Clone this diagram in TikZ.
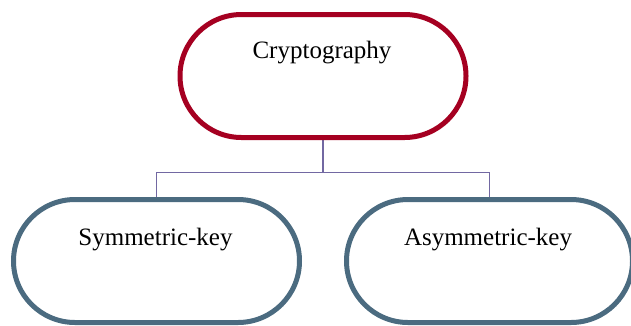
\documentclass[tikz,border=0pt]{standalone}
\usepackage{fontspec}
\setmainfont{Liberation Serif}
\usetikzlibrary{backgrounds}
\definecolor{rootred}{HTML}{A50021}
\definecolor{leafblue}{HTML}{4B6B80}
\definecolor{linkviolet}{HTML}{7268A2}
\begin{document}
\begin{tikzpicture}[x=1pt,y=-1pt,
  pill/.style={draw, line width=5pt, fill=white, rounded corners=61.5pt,
    minimum width=286pt, minimum height=123pt, inner sep=0pt},
  rootpill/.style={pill, draw=rootred},
  leafpill/.style={pill, draw=leafblue},
  caption/.style={anchor=base, inner sep=0pt, font=\fontsize{25}{30}\selectfont},
  link/.style={draw=linkviolet, line width=1.5pt}]
  \useasboundingbox (0,0) rectangle (631,325);
  % the three rounded boxes
  \node[rootpill] (crypto) at (323,76) {};
  \node[leafpill] (sym) at (156.5,261) {};
  \node[leafpill] (asym) at (489.5,261) {};
  % their captions, set in the upper part of each box
  \node[caption] (cryptotext) at (322,58) {Cryptography};
  \node[caption] (symtext) at (155.5,245) {Symmetric-key};
  \node[caption] (asymtext) at (488,245) {Asymmetric-key};
  % tree connectors, kept behind the boxes
  \coordinate (joint) at (323,172.5);
  \begin{scope}[on background layer]
    \draw[link] (crypto.south) -- (joint) -| (sym.north);
    \draw[link] (joint) -| (asym.north);
  \end{scope}
\end{tikzpicture}
\end{document}
